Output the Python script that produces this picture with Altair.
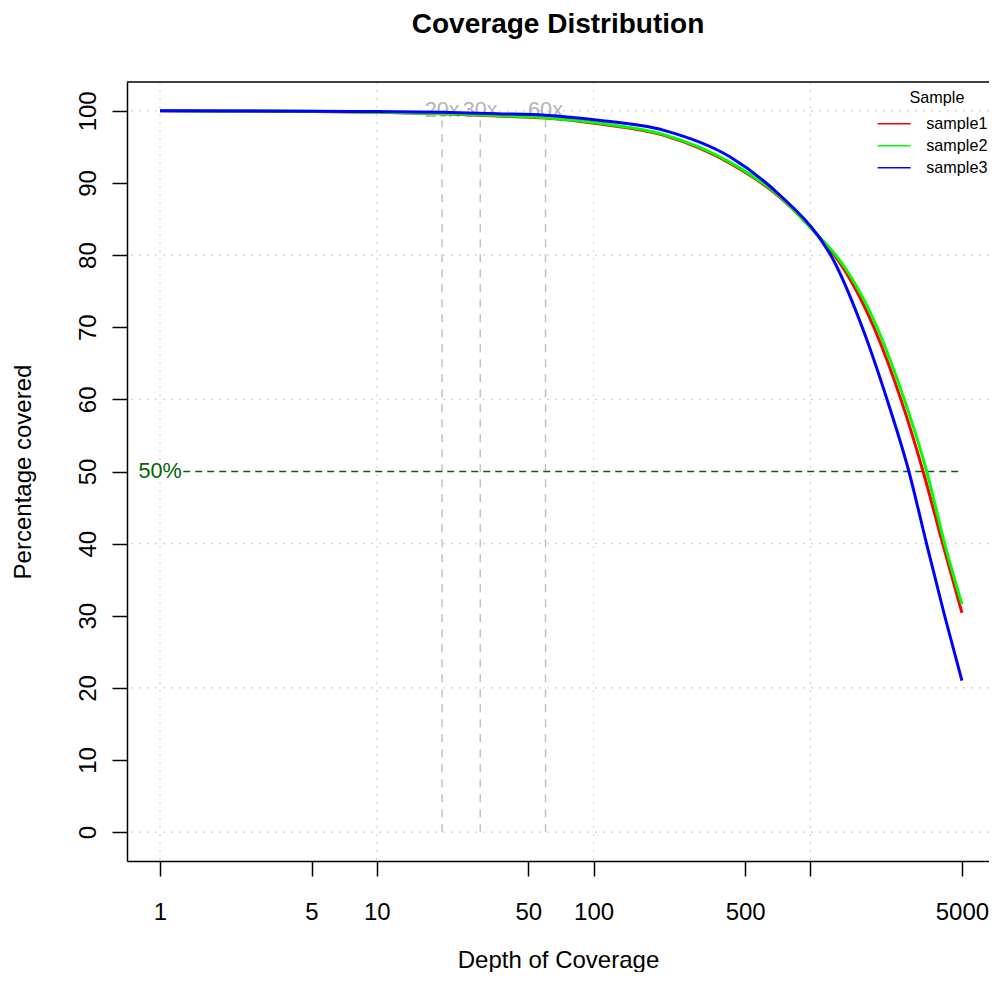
import altair as alt
import pandas as pd

# ---- data ----
samples = ["sample1", "sample2", "sample3"]
colors = ["#ff0000", "#00ff00", "#0000ff"]

s1_depth = [1, 2, 5, 10, 20, 36, 60, 105, 211, 427, 724, 1090, 1290, 1961, 2614, 3310, 4074, 5000]
s1_pct = [100, 99.98, 99.92, 99.8, 99.6, 99.3, 99.0, 98.2, 96.6, 92.7, 88.0, 82.6, 80.0, 70.0, 60.0, 50.0, 40.0, 30.4]

s2_depth = [1, 2, 5, 10, 20, 36, 60, 105, 211, 427, 724, 1090, 1310, 2028, 2710, 3440, 4160, 5000]
s2_pct = [100, 99.98, 99.93, 99.82, 99.62, 99.35, 99.05, 98.3, 96.7, 92.85, 88.1, 82.6, 80.0, 70.0, 60.0, 50.0, 40.0, 31.6]

s3_depth = [1, 2, 5, 10, 20, 36, 60, 105, 211, 427, 724, 1090, 1240, 1733, 2256, 2846, 3433, 4160, 5000]
s3_pct = [100, 99.99, 99.96, 99.9, 99.8, 99.6, 99.4, 98.7, 97.3, 93.6, 88.3, 82.6, 80.0, 70.0, 60.0, 50.0, 40.0, 30.0, 21.0]

x_ticks = [1, 5, 10, 50, 100, 500, 1000, 5000]
y_ticks = [0, 10, 20, 30, 40, 50, 60, 70, 80, 90, 100]
grid_x = [1, 10, 100, 1000]
grid_y = [0, 20, 40, 60, 80, 100]
thresholds = [20, 30, 60]
threshold_labels = ["20x", "30x", "60x"]

FONT = "Liberation Sans"
W, H = 862, 779

rows = []
for name, d, p in [("sample1", s1_depth, s1_pct), ("sample2", s2_depth, s2_pct), ("sample3", s3_depth, s3_pct)]:
    for a, b in zip(d, p):
        rows.append({"sample": name, "depth": a, "pct": b})
curves = pd.DataFrame(rows)

xscale = alt.Scale(type="log", domain=[0.7043, 6664], nice=False)
yscale = alt.Scale(domain=[-4, 104], nice=False, zero=False)

x_axis = alt.Axis(
    values=x_ticks,
    labelExpr="datum.value == 1000 ? '' : format(datum.value, 'd')",
    title="Depth of Coverage",
    titleX=W / 2,
    titleY=99,
    titleBaseline="middle",
    titleAlign="center",
    grid=False,
    tickSize=15,
    labelPadding=36,
    labelBaseline="middle",
    labelOverlap=False,
    labelFlush=False,
    labelBound=False,
)
y_axis = alt.Axis(
    values=y_ticks,
    title="Percentage covered",
    titleX=-104,
    titleY=H / 2,
    titleAngle=270,
    titleBaseline="middle",
    titleAlign="center",
    grid=False,
    tickSize=15,
    labelAngle=270,
    labelAlign="center",
    labelBaseline="middle",
    labelPadding=24,
    labelOverlap=False,
    labelFlush=False,
    labelBound=False,
)

gx = alt.Chart(pd.DataFrame({"gx": grid_x})).mark_rule(
    color="#d3d3d3", strokeWidth=1.2, strokeDash=[2, 6]
).encode(x=alt.X("gx:Q", scale=xscale, axis=x_axis))

gy = alt.Chart(pd.DataFrame({"gy": grid_y})).mark_rule(
    color="#d3d3d3", strokeWidth=1.2, strokeDash=[2, 6]
).encode(y=alt.Y("gy:Q", scale=yscale, axis=y_axis))

thr_df = pd.DataFrame({
    "t": thresholds,
    "lab": threshold_labels,
    "y0": [0] * len(thresholds),
    "y1": [98.7] * len(thresholds),
    "ylab": [100] * len(thresholds),
})
thr_rules = alt.Chart(thr_df).mark_rule(
    color="#bebebe", strokeWidth=1.4, strokeDash=[8, 7]
).encode(
    x=alt.X("t:Q", scale=xscale, axis=x_axis),
    y=alt.Y("y0:Q", scale=yscale, axis=y_axis),
    y2="y1:Q",
)
thr_text = alt.Chart(thr_df).mark_text(
    font=FONT, fontSize=21.6, color="#b4b4b4", align="center", baseline="middle"
).encode(
    x=alt.X("t:Q", scale=xscale, axis=x_axis),
    y=alt.Y("ylab:Q", scale=yscale, axis=y_axis),
    text="lab:N",
)

half_rule = alt.Chart(pd.DataFrame({"a": [1.28], "b": [5000], "v": [50]})).mark_rule(
    color="#006400", strokeWidth=1.5, strokeDash=[7, 5]
).encode(
    x=alt.X("a:Q", scale=xscale, axis=x_axis),
    x2="b:Q",
    y=alt.Y("v:Q", scale=yscale, axis=y_axis),
)
half_text = alt.Chart(pd.DataFrame({"a": [1], "v": [50], "lab": ["50%"]})).mark_text(
    font=FONT, fontSize=21.6, color="#006400", align="center", baseline="middle"
).encode(
    x=alt.X("a:Q", scale=xscale, axis=x_axis),
    y=alt.Y("v:Q", scale=yscale, axis=y_axis),
    text="lab:N",
)

lines = alt.Chart(curves).mark_line(strokeWidth=3, interpolate="monotone").encode(
    x=alt.X("depth:Q", scale=xscale, axis=x_axis),
    y=alt.Y("pct:Q", scale=yscale, axis=y_axis),
    color=alt.Color(
        "sample:N",
        scale=alt.Scale(domain=samples, range=colors),
        legend=alt.Legend(
            title="Sample",
            orient="none",
            legendX=759,
            legendY=8,
            symbolType="M-3,0H3",
            symbolSize=121,
            symbolStrokeWidth=1.5,
            labelOffset=24,
            rowPadding=5,
            titleAnchor="middle",
            titlePadding=9.5,
            padding=0,
        ),
    ),
)

top_border = alt.Chart(pd.DataFrame({"k": [0]})).mark_rule(color="black", strokeWidth=1.5).encode(
    y=alt.value(0), x=alt.value(0), x2=alt.value(W)
)

chart = alt.layer(gx, gy, thr_rules, thr_text, half_rule, half_text, lines, top_border).properties(
    width=W,
    height=H,
    autosize=alt.AutoSizeParams(type="none"),
    padding={"left": 119, "top": 74, "right": 0, "bottom": 111},
    title=alt.TitleParams(
        "Coverage Distribution",
        font=FONT,
        fontSize=28,
        fontWeight="bold",
        color="black",
        anchor="middle",
        frame="group",
        offset=42,
    ),
).configure_view(stroke=None).configure_axis(
    labelFont=FONT,
    titleFont=FONT,
    labelFontSize=24,
    titleFontSize=24,
    labelColor="black",
    titleColor="black",
    titleFontWeight="normal",
    domainColor="black",
    domainWidth=1.5,
    tickColor="black",
    tickWidth=1.5,
).configure_legend(
    labelFont=FONT,
    titleFont=FONT,
    labelFontSize=16.2,
    titleFontSize=16.2,
    titleFontWeight="normal",
    labelColor="black",
    titleColor="black",
)

chart.save("out.html", embed_options={"renderer": "svg", "actions": False})
